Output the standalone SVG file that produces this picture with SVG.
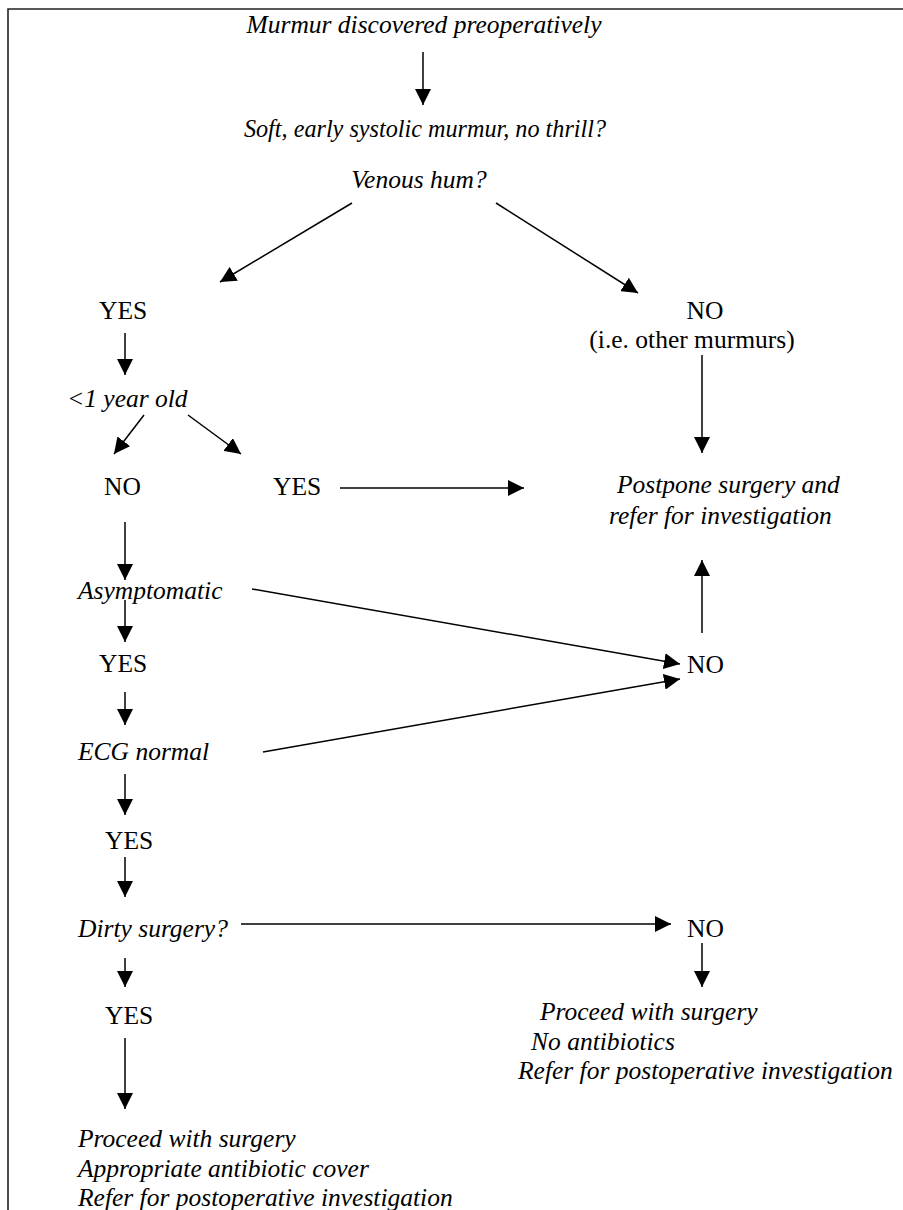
<svg xmlns="http://www.w3.org/2000/svg" width="903" height="1210" viewBox="0 0 903 1210">
<style>
.t{font-family:'Liberation Serif', serif;font-size:25.5px;fill:#000}
.i{font-style:italic}
.c{text-anchor:middle}
.ln{stroke:#000;stroke-width:1.5;fill:none}
.fr{stroke:#222;stroke-width:1.6;fill:none}
</style>
<defs>
<marker id="ah" markerUnits="userSpaceOnUse" markerWidth="16" markerHeight="16" refX="16" refY="8" orient="auto" viewBox="0 0 16 16">
<path d="M0,0 L16,8 L0,16 Z" fill="#000"/>
</marker>
</defs>
<rect width="903" height="1210" fill="#fff"/>
<path class="fr" d="M8,1210 L8,9 L903,9"/>
<g class="t" font-family="Liberation Serif, serif" font-size="25.5">
<g id="n-murmur"><text class="i c" x="424" y="33">Murmur discovered preoperatively</text></g>
<g id="n-soft"><text class="i c" x="425" y="137" style="font-size:24.2px">Soft, early systolic murmur, no thrill?</text></g>
<g id="n-venous"><text class="i c" x="419" y="188">Venous hum?</text></g>
<g id="n-yes1"><text x="99" y="319">YES</text></g>
<g id="n-no1"><text class="c" x="705" y="319">NO</text><text class="c" x="692" y="348">(i.e. other murmurs)</text></g>
<g id="n-age"><text class="i" x="67" y="407">&lt;1 year old</text></g>
<g id="n-no2"><text x="104" y="495">NO</text></g>
<g id="n-yes2"><text x="273" y="495">YES</text></g>
<g id="n-postpone"><text class="i" x="617" y="493">Postpone surgery and</text><text class="i" x="609" y="524">refer for investigation</text></g>
<g id="n-asym"><text class="i" x="78" y="599">Asymptomatic</text></g>
<g id="n-yes3"><text x="99" y="672">YES</text></g>
<g id="n-no3"><text x="687" y="673">NO</text></g>
<g id="n-ecg"><text class="i" x="78" y="760">ECG normal</text></g>
<g id="n-yes4"><text x="105" y="849">YES</text></g>
<g id="n-dirty"><text class="i" x="78" y="937">Dirty surgery?</text></g>
<g id="n-no4"><text x="687" y="937">NO</text></g>
<g id="n-yes5"><text x="105" y="1024">YES</text></g>
<g id="n-proceed-no"><text class="i" x="540" y="1020">Proceed with surgery</text><text class="i" x="531" y="1050">No antibiotics</text><text class="i" x="518" y="1079">Refer for postoperative investigation</text></g>
<g id="n-proceed-yes"><text class="i" x="78" y="1147">Proceed with surgery</text><text class="i" x="78" y="1177">Appropriate antibiotic cover</text><text class="i" x="78" y="1206">Refer for postoperative investigation</text></g>
</g>
<g id="connectors" class="ln" marker-end="url(#ah)">
<line x1="423" y1="52" x2="423" y2="105"/>
<line x1="352" y1="203" x2="220" y2="282"/>
<line x1="496" y1="203" x2="638" y2="293"/>
<line x1="125" y1="333" x2="125" y2="375"/>
<line x1="144" y1="415" x2="114" y2="454"/>
<line x1="188" y1="415" x2="241" y2="454"/>
<line x1="340" y1="488" x2="524" y2="488"/>
<line x1="702" y1="355" x2="702" y2="453"/>
<line x1="702" y1="633" x2="702" y2="560"/>
<line x1="125" y1="522" x2="125" y2="580"/>
<line x1="252" y1="589" x2="680" y2="664"/>
<line x1="263" y1="752" x2="680" y2="679"/>
<line x1="125" y1="600" x2="125" y2="642"/>
<line x1="125" y1="692" x2="125" y2="725"/>
<line x1="125" y1="774" x2="125" y2="815"/>
<line x1="125" y1="857" x2="125" y2="897"/>
<line x1="241" y1="924" x2="671" y2="924"/>
<line x1="702" y1="943" x2="702" y2="987"/>
<line x1="125" y1="958" x2="125" y2="987"/>
<line x1="125" y1="1038" x2="125" y2="1109"/>
</g>
</svg>
